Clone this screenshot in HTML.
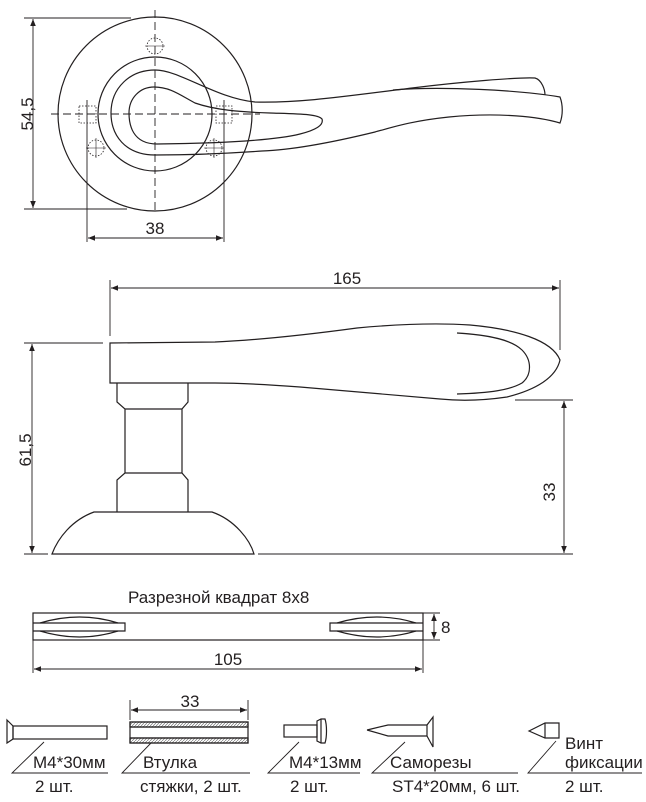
<!DOCTYPE html>
<html><head><meta charset="utf-8"><style>
html,body{margin:0;padding:0;background:#fff;}
svg{display:block;}
text{font-family:"Liberation Sans",Arial,sans-serif;fill:#231f20;}
</style></head><body>
<svg width="646" height="802" viewBox="0 0 646 802" xmlns="http://www.w3.org/2000/svg">
<defs>
<marker id="a" viewBox="0 0 10 10" refX="10" refY="5" markerWidth="9" markerHeight="7" orient="auto-start-reverse" markerUnits="userSpaceOnUse"><path d="M0,1 L10,5 L0,9 z" fill="#231f20"/></marker>
<pattern id="h" width="3" height="3" patternUnits="userSpaceOnUse"><path d="M0,3 L3,0" stroke="#777" stroke-width="0.7"/></pattern>
</defs>
<g fill="none" stroke="#231f20" stroke-width="1.2">
<!-- TOP VIEW -->
<circle cx="155" cy="114" r="97"/>
<circle cx="155" cy="114" r="57"/>
<line x1="155" y1="10" x2="155" y2="213" stroke-dasharray="8,4" stroke-width="0.9"/>
<line x1="51" y1="114" x2="260" y2="114" stroke-dasharray="8,4" stroke-width="0.9"/>
<g stroke-dasharray="1.5,1.5" stroke-width="0.8">
<circle cx="155" cy="46" r="8"/><circle cx="96" cy="148" r="8"/><circle cx="214" cy="148" r="8"/>
<rect x="79" y="106" width="17" height="17"/><rect x="216" y="106" width="16" height="17"/>
</g>
<g stroke-width="0.6"><line x1="145" y1="46" x2="165" y2="46"/><line x1="86" y1="148" x2="106" y2="148"/><line x1="204" y1="148" x2="224" y2="148"/><line x1="96" y1="138" x2="96" y2="158"/><line x1="214" y1="138" x2="214" y2="158"/></g>
<!-- lever top -->
<path d="M155,155 C125,155 111,135 111,113 C111,88 130,70 155,70 C180,70 215,98 255,102 C300,103 340,97 412,88 C460,82 520,77 535,78 C542,80 545,90 545,95"/>
<path d="M393,90 C440,86 520,90 560,97 C563,105 563,115 560,123 C540,117 500,112 449,117 C410,121 390,128 375,132 C330,143 290,150 262,151 C220,154 180,155 155,155"/>
<path d="M157,144 C132,144 129,124 129,113 C129,98 140,87 154,87 C170,87 180,95 195,103 C215,110 240,112 270,113 C300,114 318,114 322,119 C324,125 316,130 300,134 C280,139 240,143 157,144"/>
<!-- 54,5 dim -->
<line x1="24" y1="18" x2="131" y2="18" stroke-width="0.9"/>
<line x1="24" y1="209" x2="127" y2="209" stroke-width="0.9"/>
<line x1="33" y1="19" x2="33" y2="208" marker-start="url(#a)" marker-end="url(#a)" stroke-width="0.9"/>
<!-- 38 dim -->
<line x1="87" y1="100" x2="87" y2="242" stroke-width="0.9"/>
<line x1="224" y1="100" x2="224" y2="242" stroke-width="0.9"/>
<line x1="88" y1="238" x2="223" y2="238" marker-start="url(#a)" marker-end="url(#a)" stroke-width="0.9"/>

<!-- SIDE VIEW -->
<line x1="110" y1="280" x2="110" y2="336" stroke-width="0.9"/>
<line x1="560" y1="280" x2="560" y2="350" stroke-width="0.9"/>
<line x1="111" y1="288" x2="559" y2="288" marker-start="url(#a)" marker-end="url(#a)" stroke-width="0.9"/>
<path d="M110,343 L215,342 C260,340 320,333 357,328 C400,324 440,323 470,325 C515,329 552,340 560,360 C556,378 535,390 507,397 C480,401 460,401 440,399 C400,396 360,392 300,387 C260,384 235,383 215,383 L110,383 Z"/>
<path d="M457,333 C490,335 512,340 522,350 C532,360 532,375 522,383 C510,390 490,393 457,394"/>
<path d="M117,383 L117,402 L125,409 L125,473 L117,480 L117,512 M188,383 L188,402 L182,409 L182,473 L188,480 L188,512 M125,409 L182,409 M125,473 L182,473"/>
<path d="M94,512 L212,512 C235,520 250,540 254,554 L52,554 C58,538 72,520 94,512 Z"/>
<!-- 61,5 -->
<line x1="24" y1="343" x2="103" y2="343" stroke-width="0.9"/>
<line x1="24" y1="554" x2="48" y2="554" stroke-width="0.9"/>
<line x1="32" y1="344" x2="32" y2="553" marker-start="url(#a)" marker-end="url(#a)" stroke-width="0.9"/>
<!-- 33 -->
<line x1="515" y1="400" x2="573" y2="400" stroke-width="0.9"/>
<line x1="258" y1="554" x2="573" y2="554" stroke-width="0.9"/>
<line x1="564" y1="401" x2="564" y2="553" marker-start="url(#a)" marker-end="url(#a)" stroke-width="0.9"/>

<!-- SQUARE -->
<rect x="33" y="613" width="390" height="27"/>
<path d="M33,623 L125,623 L125,631 L33,631"/>
<path d="M40,623 Q80,611 118,623 M40,631 Q80,643 118,631"/>
<path d="M423,623 L330,623 L330,631 L423,631"/>
<path d="M337,623 Q377,611 416,623 M337,631 Q377,643 416,631"/>
<line x1="423" y1="613" x2="440" y2="613" stroke-width="0.9"/>
<line x1="423" y1="640" x2="440" y2="640" stroke-width="0.9"/>
<line x1="434" y1="614" x2="434" y2="639" marker-start="url(#a)" marker-end="url(#a)" stroke-width="0.9"/>
<line x1="33" y1="640" x2="33" y2="673" stroke-width="0.9"/>
<line x1="423" y1="640" x2="423" y2="673" stroke-width="0.9"/>
<line x1="34" y1="669" x2="422" y2="669" marker-start="url(#a)" marker-end="url(#a)" stroke-width="0.9"/>

<!-- PARTS -->
<path d="M7,720 L13,726 L13,739 L7,743 Z"/>
<rect x="13" y="726" width="94" height="13"/>
<path d="M44,742 L12,773 L108,773" stroke-width="0.9"/>

<rect x="130" y="722" width="118" height="5" fill="url(#h)"/>
<rect x="130" y="738" width="118" height="5" fill="url(#h)"/>
<rect x="130" y="722" width="118" height="21"/>
<line x1="130" y1="727" x2="248" y2="727"/><line x1="130" y1="738" x2="248" y2="738"/>
<line x1="130" y1="700" x2="130" y2="720" stroke-width="0.9"/>
<line x1="248" y1="700" x2="248" y2="720" stroke-width="0.9"/>
<line x1="131" y1="710" x2="247" y2="710" marker-start="url(#a)" marker-end="url(#a)" stroke-width="0.9"/>
<path d="M151,743 L122,773 L250,773" stroke-width="0.9"/>

<rect x="284" y="725" width="33" height="12"/>
<path d="M317,721 L321,719 L325,719 C327,725 327,737 325,743 L321,743 L317,741 Z"/>
<line x1="321" y1="719" x2="321" y2="743"/>
<path d="M299,742 L268,773 L360,773" stroke-width="0.9"/>

<path d="M367,730 L388,725 L427,725 M367,730 L388,736 L427,736"/>
<path d="M427,725 L433,717 L433,747 L427,736 Z"/>
<path d="M405,742 L372,773 L518,773" stroke-width="0.9"/>

<path d="M529,731 L545,723 L559,723 L559,738 L545,738 Z"/>
<line x1="545" y1="723" x2="545" y2="738"/>
<path d="M556,741 L528,773 L642,773" stroke-width="0.9"/>
</g>

<g font-size="17">
<text transform="translate(33,114) rotate(-90)" text-anchor="middle">54,5</text>
<text x="155" y="234" text-anchor="middle">38</text>
<text x="347" y="284" text-anchor="middle">165</text>
<text transform="translate(31,450) rotate(-90)" text-anchor="middle">61,5</text>
<text transform="translate(555,492) rotate(-90)" text-anchor="middle">33</text>
<text x="128" y="603">Разрезной квадрат 8x8</text>
<text x="441" y="633">8</text>
<text x="228" y="665" text-anchor="middle">105</text>
<text x="190" y="707" text-anchor="middle">33</text>
<text x="33" y="768">M4*30мм</text>
<text x="35" y="792">2 шт.</text>
<text x="143" y="768">Втулка</text>
<text x="140" y="792">стяжки, 2 шт.</text>
<text x="289" y="768">M4*13мм</text>
<text x="290" y="792">2 шт.</text>
<text x="390" y="768">Саморезы</text>
<text x="392" y="792">ST4*20мм, 6 шт.</text>
<text x="565" y="749">Винт</text>
<text x="565" y="768">фиксации</text>
<text x="565" y="792">2 шт.</text>
</g>
</svg>
</body></html>
